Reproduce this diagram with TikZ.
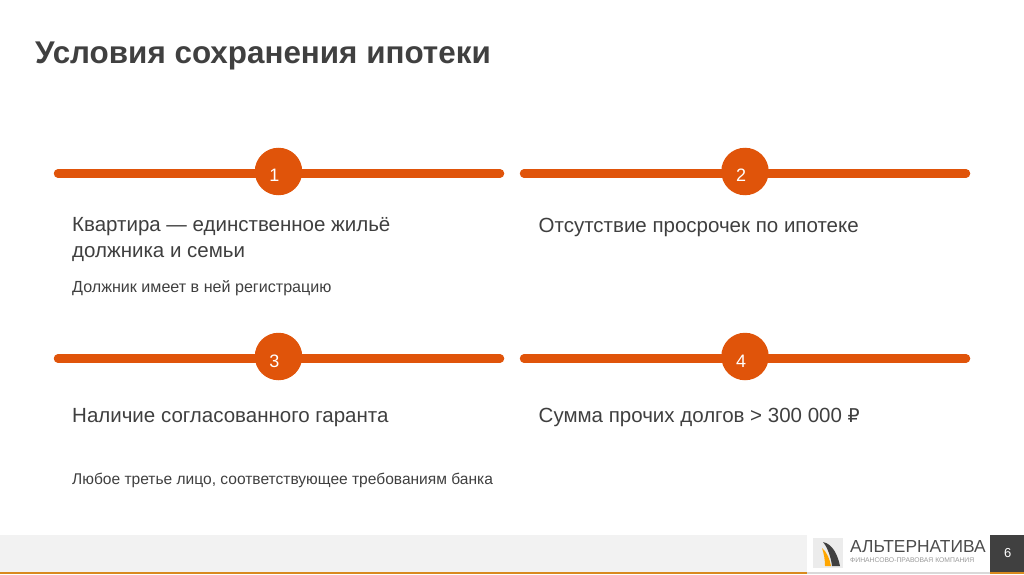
\documentclass[tikz,border=0pt]{standalone}
\usepackage{fontspec}
\setmainfont{Liberation Sans}
\newfontfamily\rublefont{DejaVu Sans}
\usetikzlibrary{positioning}
\definecolor{barorange}{HTML}{E0540A}
\definecolor{titlegray}{HTML}{404040}
\definecolor{textgray}{HTML}{3F3F3F}
\definecolor{footgray}{HTML}{F2F2F2}
\definecolor{footline}{HTML}{D98A1E}
\definecolor{pagegray}{HTML}{404040}
\tikzset{
  bar/.style={draw=barorange,line width=8.5pt,line cap=round},
  badge/.style={circle,fill=barorange,minimum size=47.5pt,inner sep=0pt},
  digit/.style={inner sep=0pt,text=white,font=\fontsize{18}{20}\selectfont},
  headtext/.style={anchor=north west,inner sep=0pt,text=textgray,align=left,font=\fontsize{20.5}{25.5}\selectfont},
  subtext/.style={anchor=west,inner sep=0pt,text=textgray}
}
\begin{document}
\begin{tikzpicture}[x=1pt,y=1pt]
\useasboundingbox (0,0) rectangle (1024,574);
\node[anchor=west,inner sep=0pt,text=titlegray] (title) at (35,518) {\fontsize{31.4}{36}\selectfont\bfseries Условия сохранения ипотеки};
\begin{scope}[shift={(0,400.5)}]
\coordinate (a1) at (58,0);
\coordinate (b1) at (500,0);
\draw[bar] (a1) -- (b1);
\node[badge] (n1) at (278.5,2) {};
\node[digit] (d1) at (274.3,-1.5) {1};
\node[headtext] (h1) at (72,-44) {Квартира — единственное жильё\\должника и семьи};
\node[subtext,font=\fontsize{16.1}{17}\selectfont] (s1) at (72,-115) {Должник имеет в ней регистрацию};
\end{scope}
\begin{scope}[shift={(0,400.5)}]
\coordinate (a2) at (524,0);
\coordinate (b2) at (966,0);
\draw[bar] (a2) -- (b2);
\node[badge] (n2) at (745,2) {};
\node[digit] (d2) at (741,-1.5) {2};
\node[headtext] (h2) at (538.5,-44) {Отсутствие просрочек по ипотеке};
\end{scope}
\begin{scope}[shift={(0,215.5)}]
\coordinate (a3) at (58,0);
\coordinate (b3) at (500,0);
\draw[bar] (a3) -- (b3);
\node[badge] (n3) at (278.5,2) {};
\node[digit] (d3) at (274.3,-2.5) {3};
\node[headtext] (h3) at (72,-50) {Наличие согласованного гаранта};
\node[subtext,font=\fontsize{15.55}{17}\selectfont] (s3) at (72,-122) {Любое третье лицо, соответствующее требованиям банка};
\end{scope}
\begin{scope}[shift={(0,215.5)}]
\coordinate (a4) at (524,0);
\coordinate (b4) at (966,0);
\draw[bar] (a4) -- (b4);
\node[badge] (n4) at (745,2) {};
\node[digit] (d4) at (741,-2.5) {4};
\node[headtext] (h4) at (538.5,-49) {Сумма прочих долгов > 300 000 {\rublefont\fontsize{19}{20}\selectfont ₽}};
\end{scope}
% footer
\fill[footgray] (0,2.5) rectangle (807,39);
\fill[footline] (0,0) rectangle (807,2.5);
\fill[gray!30] (807,0) rectangle (990,2.5);
\fill[pagegray] (990,2.5) rectangle (1024,39);
\fill[footline] (990,0) rectangle (1024,2.5);
\node[text=white,inner sep=0pt,font=\fontsize{13}{14}\selectfont] (page) at (1007.7,21) {6};
% logo
\fill[gray!15] (813,6) rectangle (843,36);
\fill[black!75] (823,32) .. controls (833,30) and (838,18) .. (840,8) -- (832,8) .. controls (831,16) and (828,26) .. (823,32);
\fill[orange!70!yellow] (822,26) .. controls (827,22) and (830,14) .. (831,8) -- (825,8) .. controls (825,14) and (824,20) .. (822,26);
\node[anchor=west,inner sep=0pt,text=black!70,font=\fontsize{17.4}{20}\selectfont] (logo) at (850,27) {АЛЬТЕРНАТИВА};
\node[anchor=west,inner sep=0pt,text=black!40,font=\fontsize{6.8}{8}\selectfont] (logosub) at (850,14) {ФИНАНСОВО-ПРАВОВАЯ КОМПАНИЯ};
\end{tikzpicture}
\end{document}
